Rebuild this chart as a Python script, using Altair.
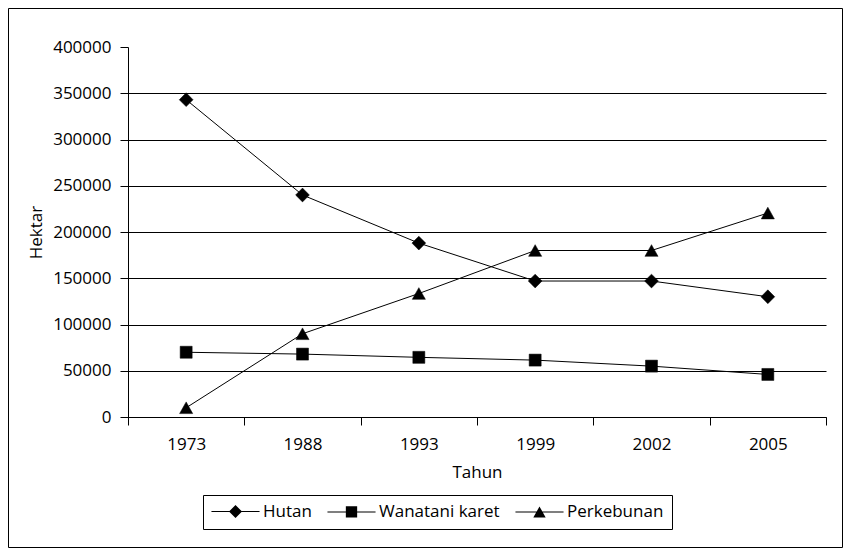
import altair as alt
import pandas as pd

years = ["1973", "1988", "1993", "1999", "2002", "2005"]
series_names = ["Hutan", "Wanatani karet", "Perkebunan"]
hutan = [343000, 240000, 188000, 147000, 147000, 130000]
wanatani = [70000, 68000, 64500, 61500, 55000, 46000]
perkebunan = [10000, 90000, 133500, 180000, 180000, 220500]
y_ticks = [0, 50000, 100000, 150000, 200000, 250000, 300000, 350000, 400000]

rows = []
for name, vals in zip(series_names, [hutan, wanatani, perkebunan]):
    for yr, v in zip(years, vals):
        rows.append({"Tahun": yr, "Hektar": v, "Seri": name})
df = pd.DataFrame(rows)

FONT = "Open Sans"
FS = 17

marker_paths = [
    "M0,-1L1,0L0,1L-1,0Z",
    "M-0.87,-0.87H0.87V0.87H-0.87Z",
    "M0,-0.85L0.95,0.85L-0.95,0.85Z",
]
legend_paths = ["M-3.7,-0.08H3.7V0.08H-3.7Z" + p for p in marker_paths]

x_enc = alt.X(
    "Tahun:N",
    sort=years,
    scale=alt.Scale(type="band", paddingInner=0, paddingOuter=0),
    axis=alt.Axis(
        title="Tahun",
        labelAngle=0,
        tickBand="extent",
        tickSize=8,
        tickColor="black",
        domainColor="black",
        grid=False,
        labelPadding=19,
        labelBaseline="middle",
        labelFont=FONT,
        labelFontSize=FS,
        labelColor="black",
        titleFont=FONT,
        titleFontSize=FS,
        titleFontWeight="normal",
        titleColor="black",
        titleX=349,
        titleY=55,
        titleBaseline="middle",
    ),
)
y_enc = alt.Y(
    "Hektar:Q",
    scale=alt.Scale(domain=[0, 400000], nice=False),
    axis=alt.Axis(
        values=y_ticks,
        format="d",
        title="Hektar",
        grid=True,
        gridColor="black",
        gridWidth=1,
        gridOpacity={"condition": {"test": "datum.value >= 400000", "value": 0}, "value": 1},
        tickSize=8,
        tickColor="black",
        domainColor="black",
        labelPadding=9,
        labelFont=FONT,
        labelFontSize=FS,
        labelColor="black",
        titleFont=FONT,
        titleFontSize=FS,
        titleFontWeight="normal",
        titleColor="black",
        titleX=-92,
        titleY=185,
        titleAngle=270,
        titleAlign="center",
        titleBaseline="middle",
    ),
)

base = alt.Chart(df)

lines = base.mark_line(color="black", strokeWidth=1).encode(
    x=x_enc, y=y_enc, detail="Seri:N"
)

points = base.mark_point(filled=True, fill="black", stroke="black", strokeWidth=0.5, opacity=1, size=190).encode(
    x=x_enc,
    y=y_enc,
    shape=alt.Shape(
        "Seri:N",
        scale=alt.Scale(domain=series_names, range=marker_paths),
        legend=None,
    ),
)

legend_layer = base.transform_filter("false").mark_point(
    filled=True, fill="black", opacity=1, size=169
).encode(
    x=x_enc,
    y=y_enc,
    shape=alt.Shape(
        "Seri:N",
        scale=alt.Scale(domain=series_names, range=legend_paths),
        legend=alt.Legend(
            title=None,
            orient="none",
            legendX=75,
            legendY=448,
            direction="horizontal",
            strokeColor="black",
            padding=8,
            symbolSize=169,
            symbolOffset=16,
            labelOffset=19,
            columnPadding=12,
            symbolFillColor="black",
            labelFont=FONT,
            labelFontSize=FS,
            labelColor="black",
            labelLimit=0,
            labelExpr="datum.label == 'Perkebunan' ? '\u00a0\u00a0\u00a0Perkebunan' : datum.label",
        ),
    ),
)

frame = alt.Chart(pd.DataFrame({"f": [0]})).mark_rect(
    fillOpacity=0, stroke="black", strokeWidth=1, clip=False
).encode(
    x=alt.value(-119.5), x2=alt.value(714.5), y=alt.value(-38.5), y2=alt.value(500.5)
)

chart = (
    alt.layer(lines, points, legend_layer, frame)
    .resolve_scale(shape="independent")
    .properties(
        width=698,
        height=370,
        autosize=alt.AutoSizeParams(type="none"),
        padding={"left": 120, "top": 39, "right": 17, "bottom": 131},
        background="white",
    )
    .configure_view(stroke="transparent")
)

chart.save("out.html", embed_options={"renderer": "svg", "actions": False})
